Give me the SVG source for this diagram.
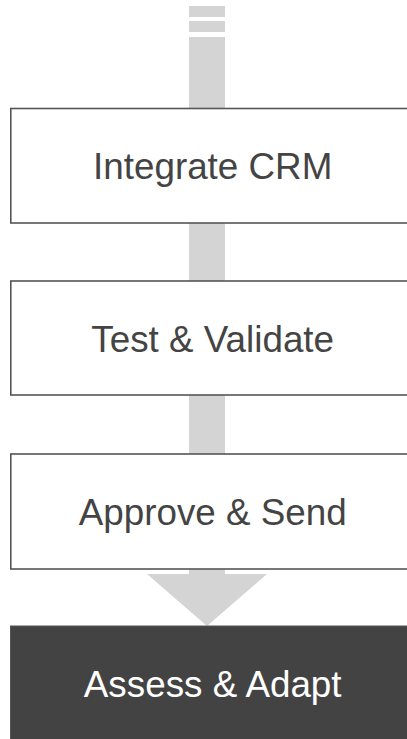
<svg xmlns="http://www.w3.org/2000/svg" width="407" height="739" viewBox="0 0 407 739">
  <style>
    .bar { fill: #d4d4d4; }
    .box { fill: #ffffff; stroke: #555555; stroke-width: 1.6; }
    .dark { fill: #434343; stroke: #555555; stroke-width: 1; }
    .lbl { font-family: "Liberation Sans", Arial, sans-serif; font-size: 36.8px; text-anchor: middle; fill: #444444; }
    .lbl-w { fill: #ffffff; }
  </style>
  <rect width="407" height="739" fill="#ffffff"/>
  <g id="connectors">
    <rect class="bar" x="189" y="6" width="36" height="11"/>
    <rect class="bar" x="189" y="21" width="36" height="11"/>
    <rect class="bar" x="189" y="37" width="36" height="72"/>
    <rect class="bar" x="189" y="222" width="36" height="60"/>
    <rect class="bar" x="189" y="394" width="36" height="61"/>
    <path class="bar" d="M189 568 H225 V574 H267 L207 626 L147 574 H189 Z"/>
  </g>
  <g id="integrate-crm">
    <rect class="box" x="10.8" y="108.5" width="410" height="114.5"/>
    <text class="lbl" x="212.7" y="179.3">Integrate CRM</text>
  </g>
  <g id="test-validate">
    <rect class="box" x="10.8" y="281" width="410" height="114"/>
    <text class="lbl" x="212.7" y="352">Test &amp; Validate</text>
  </g>
  <g id="approve-send">
    <rect class="box" x="10.8" y="454" width="410" height="115"/>
    <text class="lbl" x="212.7" y="525">Approve &amp; Send</text>
  </g>
  <g id="assess-adapt">
    <rect class="dark" x="10.5" y="626" width="410" height="120"/>
    <text class="lbl lbl-w" x="212.7" y="697">Assess &amp; Adapt</text>
  </g>
</svg>
